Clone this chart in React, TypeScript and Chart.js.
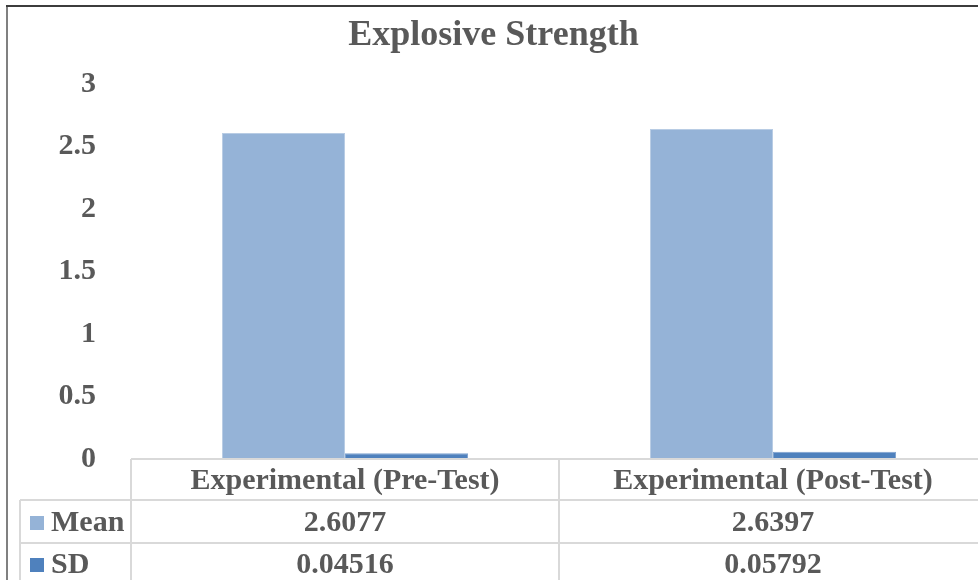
import React, { useEffect, useRef } from "react";
import { Chart, registerables } from "chart.js";

Chart.register(...registerables);

const title = "Explosive Strength";
const categories = ["Experimental (Pre-Test)", "Experimental (Post-Test)"];
const seriesNames = ["Mean", "SD"];
const meanValues = [2.6077, 2.6397];
const sdValues = [0.04516, 0.05792];
const meanLabels = ["2.6077", "2.6397"];
const sdLabels = ["0.04516", "0.05792"];
const yTicks = [0, 0.5, 1, 1.5, 2, 2.5, 3];

const FONT = "'Liberation Serif', 'Times New Roman', serif";
const TEXT = "#595959";
const MEAN_COLOR = "#95B3D7";
const SD_COLOR = "#4F81BD";
const LINE = "#D9D9D9";

const tablePlugin = {
  id: "dataTable",
  afterDraw(chart: any) {
    const ctx = chart.ctx as CanvasRenderingContext2D;
    const area = chart.chartArea;
    const xs = chart.scales.x;
    const n = categories.length;
    const catW = (area.right - area.left) / n;
    const B = area.bottom;
    const rowTops = [B, B + 41, B + 84];
    const rowBottom = B + 130;
    const legendLeft = 20;

    ctx.save();
    // outer picture border
    ctx.strokeStyle = "#808080";
    ctx.lineWidth = 2;
    ctx.beginPath();
    ctx.moveTo(7, 5);
    ctx.lineTo(7, 600);
    ctx.stroke();
    ctx.strokeStyle = "#3c3c3c";
    ctx.beginPath();
    ctx.moveTo(6, 6);
    ctx.lineTo(1000, 6);
    ctx.stroke();

    // table grid
    ctx.strokeStyle = LINE;
    ctx.lineWidth = 2;
    ctx.beginPath();
    ctx.moveTo(area.left, rowTops[0]);
    ctx.lineTo(area.right, rowTops[0]);
    for (let r = 1; r < rowTops.length; r++) {
      ctx.moveTo(legendLeft, rowTops[r]);
      ctx.lineTo(area.right, rowTops[r]);
    }
    ctx.moveTo(legendLeft, rowTops[1]);
    ctx.lineTo(legendLeft, rowBottom);
    for (let i = 0; i <= n; i++) {
      const x = area.left + i * catW;
      ctx.moveTo(x, rowTops[0]);
      ctx.lineTo(x, rowBottom);
    }
    ctx.stroke();

    // text
    ctx.fillStyle = TEXT;
    ctx.font = `bold 30px ${FONT}`;
    ctx.textAlign = "center";
    ctx.textBaseline = "middle";
    const rowsText = [categories, meanLabels, sdLabels];
    const centers = [B + 22, B + 64, B + 106];
    for (let i = 0; i < n; i++) {
      const cx = xs.getPixelForValue(i);
      for (let r = 0; r < rowsText.length; r++) {
        ctx.fillText(rowsText[r][i], cx, centers[r]);
      }
    }
    // legend keys
    const colors = [MEAN_COLOR, SD_COLOR];
    ctx.textAlign = "left";
    for (let s = 0; s < seriesNames.length; s++) {
      const cy = centers[s + 1];
      ctx.fillStyle = colors[s];
      ctx.fillRect(30, cy - 7, 14, 14);
      ctx.fillStyle = TEXT;
      ctx.fillText(seriesNames[s], 51, cy);
    }
    ctx.restore();
  },
};

export default function App() {
  const ref = useRef<HTMLCanvasElement | null>(null);
  useEffect(() => {
    if (!ref.current) return;
    const chart = new Chart(ref.current, {
      type: "bar",
      data: {
        labels: categories,
        datasets: [
          {
            label: seriesNames[0],
            data: meanValues,
            backgroundColor: MEAN_COLOR,
            borderColor: "#B8CCE4",
            borderWidth: 1,
          },
          {
            label: seriesNames[1],
            data: sdValues,
            backgroundColor: SD_COLOR,
            borderColor: "#7FA3CF",
            borderWidth: 1,
          },
        ],
      },
      options: {
        responsive: false,
        animation: false,
        layout: { padding: { left: 0, right: 13, top: 14, bottom: 121 } },
        datasets: { bar: { categoryPercentage: 0.575, barPercentage: 1 } },
        plugins: {
          legend: { display: false },
          tooltip: { enabled: false },
          title: {
            display: true,
            text: title,
            color: TEXT,
            font: { family: FONT, size: 36, weight: "bold" },
            padding: { top: 0, bottom: 26.8 },
          },
        },
        scales: {
          x: { display: false },
          y: {
            min: 0,
            max: 3,
            afterBuildTicks: (scale: any) => {
              scale.ticks = yTicks.map((v) => ({ value: v }));
            },
            afterFit: (scale: any) => {
              scale.width = 131;
            },
            grid: { display: false },
            border: { display: false },
            ticks: {
              padding: 27,
              color: TEXT,
              font: { family: FONT, size: 30, weight: "bold" },
              callback: (v: any) => String(v),
            },
          },
        },
      },
      plugins: [tablePlugin],
    });
    return () => chart.destroy();
  }, []);
  return (
    <div
      style={{
        position: "fixed",
        left: 0,
        top: 0,
        width: 978,
        height: 580,
        overflow: "hidden",
        background: "#fff",
      }}
    >
      <canvas ref={ref} width={1000} height={580} style={{ display: "block" }} />
    </div>
  );
}
